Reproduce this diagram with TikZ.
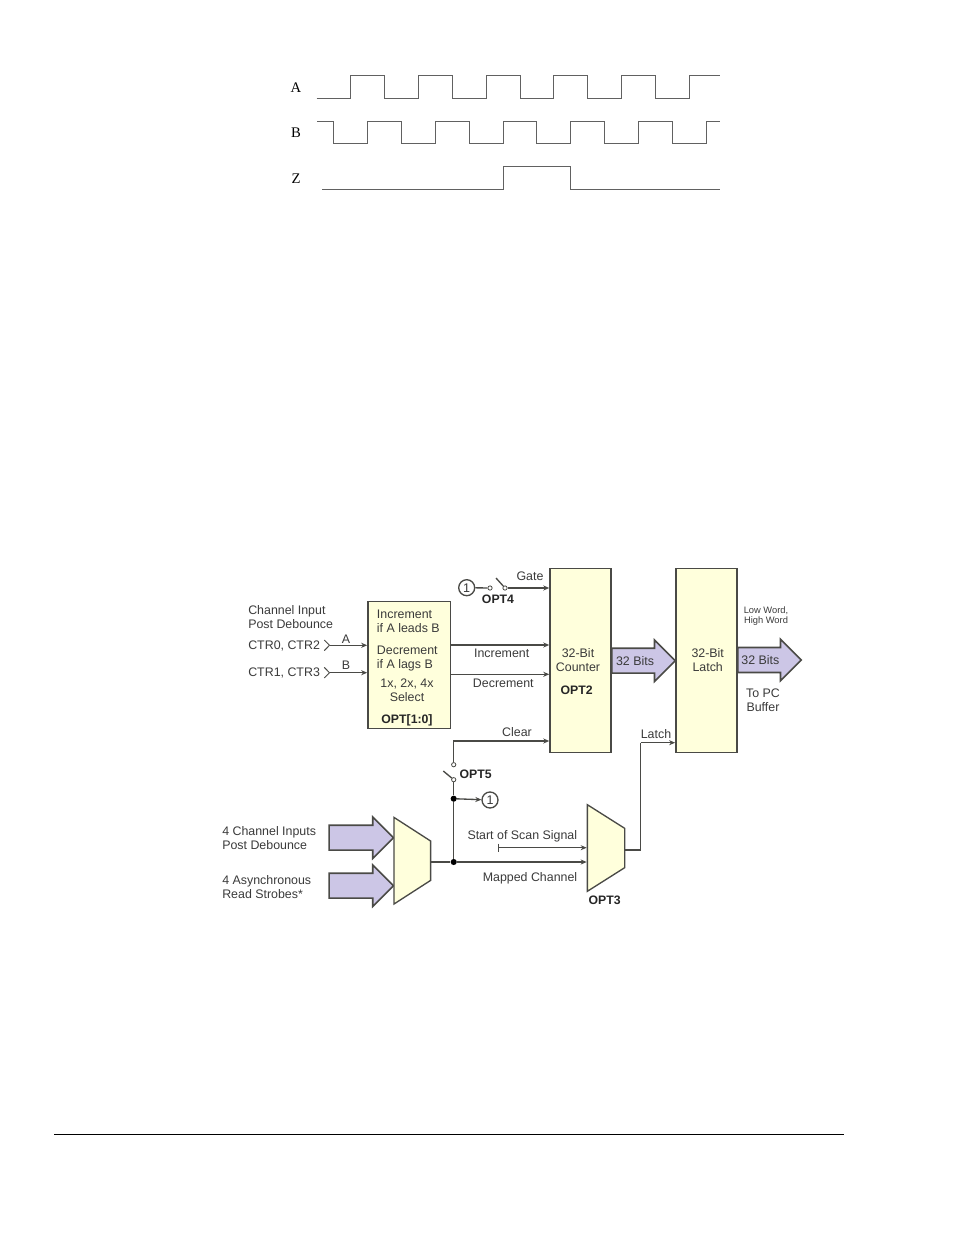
\documentclass[tikz,border=0pt]{standalone}
\usepackage{fontspec}
\setmainfont{Liberation Sans}
\newfontfamily\waveserif{Liberation Serif}
\usepackage{tikz}
\usetikzlibrary{positioning,shapes.geometric,shapes.arrows,arrows.meta}
\definecolor{blockfill}{HTML}{FFFFDC}
\definecolor{busfill}{HTML}{CCC6E6}
\definecolor{linegray}{HTML}{4A4A46}
\definecolor{textgray}{HTML}{3A3A3A}
\tikzset{
  block/.style = {rectangle, draw=linegray, line width=1.2pt, fill=blockfill,
                  minimum width=45.7pt, minimum height=138pt},
  mux/.style = {trapezium, shape border rotate=270, trapezium stretches=true,
                draw=linegray, line width=1pt, fill=blockfill},
  bus/.style = {single arrow, draw=linegray, line width=1.2pt, fill=busfill,
                single arrow head extend=6.2pt, single arrow head indent=0pt,
                minimum width=30pt, inner sep=0pt, anchor=tail,
                text height=12pt, text depth=5.5pt,
                font=\fontsize{9.3}{10.5}\selectfont, text=textgray},
  arrow/.style = {draw=linegray, line width=1pt, -{Stealth[length=4.5pt,width=3.8pt]}},
  wire/.style = {draw=linegray, line width=1pt},
  wave/.style = {draw=black!62, line width=.75pt},
  lbl/.style = {inner sep=0pt, text=textgray, align=center,
                font=\fontsize{9.3}{10.5}\selectfont},
  lblleft/.style = {lbl, align=left, anchor=west},
  optlbl/.style = {inner sep=0pt, text=black!85,
                   font=\fontsize{9.2}{10.5}\selectfont\bfseries},
  wavelbl/.style = {inner sep=0pt, font=\fontsize{11}{12}\selectfont\waveserif},
  contact/.style = {circle, draw=linegray, line width=.6pt, fill=white,
                    inner sep=0pt, minimum size=3.2pt},
  junction/.style = {circle, fill=black, inner sep=0pt, minimum size=4.6pt},
  ref/.style = {circle, draw=linegray, line width=1pt, fill=white, inner sep=0pt,
                minimum size=12pt, text=textgray, font=\fontsize{9.4}{10}\selectfont}
}
\begin{document}
\begin{tikzpicture}[x=.75pt, y=-.75pt]
\useasboundingbox (0,0) rectangle (954,1235);

% waveforms
\node (lblA) [wavelbl] at (296,88) {A};
\node (lblB) [wavelbl] at (296,133) {B};
\node (lblZ) [wavelbl] at (296,179) {Z};

\draw[wave] (316.7,98.3) foreach \xr/\xf in {350.7/384.3,418.7/452.3,486.3/520,553.7/587.7,621.7/655.7} {
  -| (\xr,75.3) -| (\xf,98.3) } -| (689.3,75.3) -- (720,75.3);
\draw[wave] (317.3,121.3) foreach \xf/\xr in {333.3/367.3,401.7/435.7,469.7/503.3,536.7/570.3,604.3/638.7,672.7/706.7} {
  -| (\xf,143.3) -| (\xr,121.3) } -- (720,121.3);
\draw[wave] (322.3,189) -| (503.3,166) -| (570.3,189) -- (720,189);

% main blocks
\node (select) [block, minimum width=62pt, minimum height=95.5pt] at (409.3,665) {};
\node (counter) [block] at (580.5,660.3) {};
\node (latch) [block, right=47.5pt of counter] {};

\node (incA) [lblleft] at (376.7,621.3) {Increment\\if A leads B};
\node (decA) [lblleft, below=9.7pt of incA.south west, anchor=north west] {Decrement\\if A lags B};
\node (sel) [lbl] at (407,690) {1x, 2x, 4x\\Select};
\node (opt10) [optlbl] at (407,720) {OPT[1:0]};

\node (cntlbl) [lbl] at (578,660.5) {32-Bit\\Counter};
\node (opt2) [optlbl] at (576.7,690) {OPT2};
\node (latlbl) [lbl] at (707.7,660.5) {32-Bit\\Latch};

% buses
\node (bus1) [bus, minimum height=47.6pt] at (611,660.7) {32 Bits\kern3.4pt};
\node (bus2) [bus, minimum height=47.6pt] at (737,660) {32 Bits\kern4.4pt};
\node (bus3) [bus, minimum height=48.3pt] at (328.3,837.7) {};
\node (bus4) [bus, minimum height=48.3pt] at (328.3,885.7) {};

\node (lowhigh) [lbl, font=\fontsize{7}{7.6}\selectfont] at (766,616) {Low Word,\\High Word};
\node (topc) [lbl] at (763,700.7) {To PC\\Buffer};

% muxes
\node (mux1) [mux, minimum width=65pt, minimum height=27.5pt, trapezium angle=59] at (412.3,860.7) {};
\node (mux2) [mux, minimum width=65pt, minimum height=28pt, trapezium angle=59] at (606,848) {};

% channel inputs
\node (chan) [lblleft] at (248,617) {Channel Input\\Post Debounce};
\node (ctr0) [lblleft] at (248,645.5) {CTR0, CTR2};
\node (ctr1) [lblleft] at (248,673) {CTR1, CTR3};
\coordinate (ainy) at (329.5,645.3);
\coordinate (biny) at (329.5,672.7);
\draw[wire, line width=.7pt] (324.3,640) -- (ainy) -- (324.3,650.6);
\draw[wire, line width=.7pt] (324.3,667.4) -- (biny) -- (324.3,678);
\draw[arrow] (ainy) -- (select.west |- ainy);
\draw[arrow] (biny) -- (select.west |- biny);
\node (lblAin) [lbl] at (346,639) {A};
\node (lblBin) [lbl] at (346,665) {B};

% increment and decrement
\coordinate (incy) at (500,645);
\coordinate (decy) at (500,674.3);
\draw[arrow] (select.east |- incy) -- (counter.west |- incy);
\draw[arrow] (select.east |- decy) -- (counter.west |- decy);
\node (inclbl) [lbl] at (501.7,653.7) {Increment};
\node (declbl) [lbl] at (503.3,683.7) {Decrement};

% gate
\node (ref1) [ref] at (466.7,587.7) {1};
\node (sw4a) [contact] at (490,588) {};
\node (sw4b) [contact] at (505,588) {};
\coordinate (sw4arm) at (496,578);
\draw[wire] (ref1) -- (sw4a);
\draw[wire] (sw4arm) -- (sw4b);
\draw[arrow] (sw4b) -- (counter.west |- sw4b);
\node (gatelbl) [lbl] at (530,576.7) {Gate};
\node (opt4) [optlbl] at (498,599) {OPT4};

% clear
\node (sw5a) [contact] at (453.7,764.7) {};
\node (sw5b) [contact] at (453.7,779.7) {};
\coordinate (sw5arm) at (443.3,771);
\coordinate (clry) at (453.7,741);
\draw[wire] (sw5arm) -- (sw5b);
\draw[arrow] (sw5a) -- (clry) -- (counter.west |- clry);
\node (clrlbl) [lbl] at (517,732) {Clear};
\node (opt5) [optlbl, anchor=west] at (459.3,774) {OPT5};

% mapped channel
\node (jct1) [junction] at (453.7,862) {};
\node (jct2) [junction] at (453.7,798.7) {};
\node (ref2) [ref] at (490,800) {1};
\draw[wire] (sw5b) -- (jct2) -- (jct1);
\draw[arrow] (jct2) -- (ref2);
\draw[wire] (mux1.east |- jct1) -- (jct1);
\draw[arrow] (jct1) -- (mux2.west |- jct1);
\coordinate (scan) at (498.3,847.7);
\draw[wire] (498.3,843.7) -- (498.3,851.7);
\draw[arrow] (scan) -- (mux2.west |- scan);
\node (scanlbl) [lbl] at (522.3,836.7) {Start of Scan Signal};
\node (maplbl) [lbl] at (530,878) {Mapped Channel};
\node (opt3) [optlbl] at (604.7,900) {OPT3};

% latch strobe
\coordinate (lat) at (640.7,742.7);
\draw[wire] (mux2.east |- 0,850) -| (lat);
\draw[arrow] (lat) -- (latch.west |- lat);
\node (latchlbl) [lbl] at (656,733.7) {Latch};

% input labels
\node (in4) [lblleft] at (222,837.7) {4 Channel Inputs\\Post Debounce};
\node (as4) [lblleft] at (222,886.7) {4 Asynchronous\\Read Strobes*};

% page rule
\draw[black, line width=.75pt] (54,1134) -- (844,1134);
\end{tikzpicture}
\end{document}
